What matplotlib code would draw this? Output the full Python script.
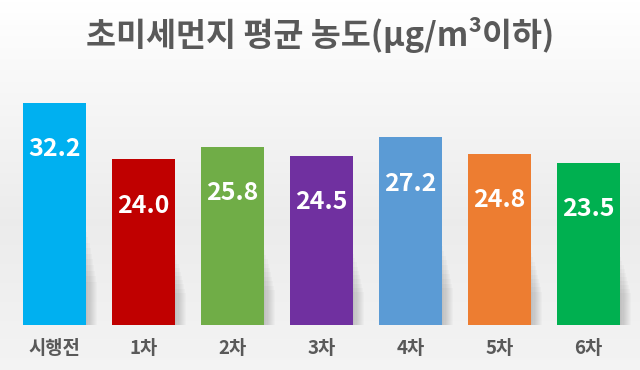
import numpy as np
import matplotlib
matplotlib.use("Agg")
import matplotlib.pyplot as plt

plt.rcParams['font.family'] = ['Noto Sans CJK KR', 'DejaVu Sans']

categories = ["시행전", "1차", "2차", "3차", "4차", "5차", "6차"]
values = [32.2, 24.0, 25.8, 24.5, 27.2, 24.8, 23.5]
colors = ["#00B0F0", "#C00000", "#70AD47", "#7030A0", "#5B9BD5", "#ED7D31", "#00B050"]
title = "초미세먼지 평균 농도(μg/m³이하)"

fig = plt.figure(figsize=(6.4, 3.7), dpi=100)

# background gradient
bg = fig.add_axes([0, 0, 1, 1], zorder=-10)
grad = np.concatenate([np.linspace(1.0, 0.925, 60), np.linspace(0.925, 0.955, 40)])
img = np.tile(grad[:, None, None], (1, 10, 3))
bg.imshow(img, aspect='auto', extent=[0, 1, 0, 1], interpolation='bilinear')
bg.set_axis_off()

ax = fig.add_axes([10 / 640, 45 / 370, 623 / 640, 241.5 / 370])
ax.patch.set_alpha(0)
x = np.arange(len(categories))
w = 0.71

# soft shadows
for k in range(10):
    off = 0.015 + k * 0.012
    ax.bar(x + off, [v * (0.42 - k * 0.025) for v in values], width=w, color="#000000",
           alpha=0.018, zorder=1, linewidth=0)

ax.bar(x, values, width=w, color=colors, zorder=3, linewidth=0)
for xi, v in zip(x, values):
    ax.text(xi, v - 6.7, f"{v:.1f}", ha='center', va='center', color='white',
            fontsize=18, fontweight='bold', zorder=4)

ax.set_xlim(-0.5, 6.5)
ax.set_ylim(0, 35)
ax.set_xticks(x)
ax.set_xticklabels(categories, fontsize=13.5, fontweight='bold', color='#595959')
ax.tick_params(axis='x', length=0, pad=10)
ax.set_yticks([])
for s in ax.spines.values():
    s.set_visible(False)

fig.text(0.5, 1 - 35 / 370, title, ha='center', va='center', fontsize=23.5,
         fontweight='bold', color='#595959')

fig.savefig("out.png", dpi=100)
